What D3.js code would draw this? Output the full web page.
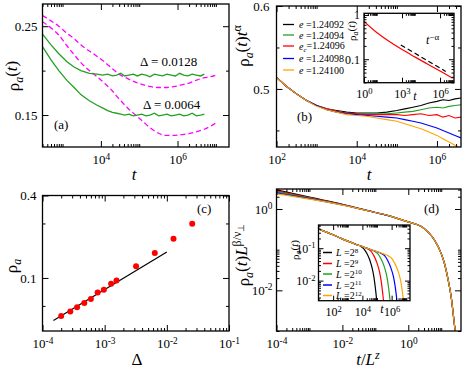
<!DOCTYPE html>
<html>
<head>
<meta charset="utf-8">
<script src="https://cdn.jsdelivr.net/npm/d3@7"></script>
<style>
  body { margin: 0; background: #fff; }
  svg { display: block; }
</style>
</head>
<body>
<script>
// ---- panel (a): rho_a(t) for two Delta values, two models ----
const aTg = [300, 500, 800, 1300, 2000, 3000, 5000, 8000, 1.1e4, 1.5e4, 2e4, 2.6e4, 3.3e4, 4.2e4, 5.4e4, 7e4, 9e4,
  1.15e5, 1.5e5, 1.9e5, 2.5e5, 3.2e5, 4.1e5, 5.3e5, 6.8e5, 8.8e5, 1.13e6, 1.45e6, 1.87e6, 2.4e6, 3.1e6, 4e6, 5e6];
const aGreenHi = [0.241, 0.229, 0.219, 0.210, 0.204, 0.200, 0.197, 0.196, 0.195, 0.196, 0.194, 0.195, 0.197, 0.194,
  0.195, 0.196, 0.194, 0.196, 0.195, 0.193, 0.196, 0.195, 0.194, 0.196, 0.195, 0.194, 0.197, 0.195, 0.194, 0.196,
  0.195, 0.194, 0.196];
const aGreenLo = [0.227, 0.212, 0.200, 0.189, 0.181, 0.173, 0.166, 0.161, 0.158, 0.155, 0.153, 0.152, 0.151, 0.150,
  0.151, 0.149, 0.150, 0.151, 0.149, 0.150, 0.152, 0.149, 0.150, 0.151, 0.149, 0.150, 0.151, 0.149, 0.150, 0.152,
  0.149, 0.150, 0.151];
const aTm = [300, 500, 800, 1300, 2000, 3000, 5000, 8000, 1.3e4, 2e4, 3e4, 5e4, 8e4, 1.3e5, 2e5, 3e5, 5e5, 8e5,
  1.3e6, 2e6, 3e6, 5e6, 7e6, 1e7];
const aMagHi = [0.262, 0.256, 0.250, 0.242, 0.236, 0.229, 0.222, 0.216, 0.209, 0.202, 0.196, 0.191, 0.187, 0.184,
  0.182, 0.181, 0.181, 0.182, 0.184, 0.186, 0.189, 0.192, 0.193, 0.195];
const aMagLo = [0.255, 0.248, 0.240, 0.228, 0.218, 0.209, 0.200, 0.193, 0.185, 0.177, 0.168, 0.158, 0.150, 0.142,
  0.135, 0.130, 0.127, 0.127, 0.128, 0.129, 0.131, 0.134, 0.137, 0.141];

// ---- panel (b): rho_a(t) t^alpha near e_c ----
const bT = [100, 178, 316, 562, 1e3, 1.78e3, 3.16e3, 5.62e3, 1e4, 1.78e4, 3.16e4, 5.62e4, 1e5, 1.58e5, 2.51e5,
  3.98e5, 6.31e5, 1e6, 1.41e6, 2e6, 2.82e6, 3.98e6];
const bLabels = ['1.24092', '1.24094', '1.24096', '1.24098', '1.24100'];
const bBlack = [0.514, 0.503, 0.494, 0.486, 0.480, 0.476, 0.474, 0.472, 0.471, 0.471, 0.471, 0.472, 0.474, 0.476,
  0.478, 0.480, 0.483, 0.485, 0.487, 0.486, 0.488, 0.489];
const bGreen = [0.514, 0.503, 0.494, 0.486, 0.480, 0.476, 0.473, 0.471, 0.470, 0.470, 0.470, 0.470, 0.471, 0.472,
  0.473, 0.475, 0.477, 0.478, 0.477, 0.479, 0.480, 0.481];
const bRed = [0.514, 0.503, 0.494, 0.486, 0.480, 0.476, 0.473, 0.471, 0.470, 0.469, 0.469, 0.469, 0.469, 0.468,
  0.469, 0.470, 0.468, 0.469, 0.466, 0.468, 0.465, 0.466];
const bBlue = [0.514, 0.503, 0.494, 0.486, 0.480, 0.475, 0.472, 0.470, 0.469, 0.468, 0.467, 0.466, 0.465, 0.463,
  0.461, 0.459, 0.456, 0.453, 0.450, 0.447, 0.444, 0.441];
const bOrange = [0.514, 0.503, 0.494, 0.486, 0.479, 0.475, 0.472, 0.469, 0.468, 0.467, 0.465, 0.463, 0.461, 0.458,
  0.455, 0.452, 0.448, 0.444, 0.440, 0.436, 0.432, 0.428];
const biT = [1, 10, 100, 1e3, 1e4, 1e5, 1e6, 1e7];
const biRho = [0.71, 0.40, 0.25, 0.165, 0.113, 0.078, 0.054, 0.037];
const biGuideT = [800, 2.8e6];
const biGuideRho = [0.21, 0.053];

// ---- panel (c): steady-state density vs Delta ----
const cDelta = [0.0002, 0.00028, 0.00036, 0.00047, 0.0006, 0.00077, 0.00097, 0.00127, 0.00155, 0.0032, 0.0064,
  0.0128, 0.0256];
const cRho = [0.0527, 0.057, 0.061, 0.0657, 0.0703, 0.0783, 0.0819, 0.0906, 0.0959, 0.122, 0.152, 0.193, 0.249];
const cFitDelta = [1.5e-4, 1e-2];
const cFitRho = [0.049, 0.155];

// ---- panel (d): finite-size collapse ----
const dS = [1e-4, 1e-3, 1e-2, 1e-1, 0.3, 1, 1.6, 2.5, 4, 6.3, 10, 12.6, 15.8, 20, 25, 28];
const dL8 = [2.95, 1.95, 1.30, 0.82, 0.66, 0.48, 0.43, 0.37, 0.27, 0.17, 0.08, 0.045, 0.02, 0.007, 0.0015, 0.0007];
const dL9 = [2.80, 1.90, 1.28, 0.82, 0.66, 0.48, 0.43, 0.37, 0.27, 0.17, 0.08, 0.045, 0.02, 0.007, 0.0015, 0.0007];
const dL10 = [2.65, 1.85, 1.27, 0.82, 0.66, 0.48, 0.43, 0.37, 0.27, 0.17, 0.08, 0.045, 0.02, 0.007, 0.0015, 0.0007];
const dL11 = [2.50, 1.80, 1.26, 0.82, 0.66, 0.48, 0.43, 0.37, 0.27, 0.17, 0.08, 0.045, 0.02, 0.007, 0.0015, 0.0007];
const dL12 = [2.35, 1.75, 1.25, 0.82, 0.66, 0.48, 0.43, 0.37, 0.27, 0.17, 0.08, 0.045, 0.02, 0.007, 0.0015, 0.0007];
const dExps = ['8', '9', '10', '11', '12'];
// inset of (d): raw rho_a(t) per system size
const diT8 = [10, 31.6, 100, 316, 1000, 2240, 5010, 7940, 1.26e4, 2e4, 3.16e4, 5.01e4, 6.31e4, 7.94e4, 1e5, 1.26e5];
const diR8 = [0.39, 0.32, 0.26, 0.205, 0.165, 0.143, 0.125, 0.113, 0.096, 0.070, 0.044, 0.021, 0.012, 0.0053, 0.0019, 0.0004];
const diT9 = [10, 31.6, 100, 316, 1000, 2240, 5010, 7940, 1.51e4, 2.4e4, 3.8e4, 6.03e4, 9.55e4, 1.51e5, 1.91e5, 2.4e5, 3.02e5, 3.8e5];
const diR9 = [0.39, 0.32, 0.26, 0.205, 0.165, 0.143, 0.125, 0.117, 0.105, 0.094, 0.081, 0.059, 0.037, 0.018, 0.010, 0.0045, 0.0016, 0.0004];
const diT10 = [10, 31.6, 100, 316, 1000, 2240, 5010, 7940, 1.51e4, 2.51e4, 4.47e4, 7.08e4, 1.12e5, 1.78e5, 2.82e5, 4.47e5, 5.62e5, 7.08e5, 8.91e5, 1.12e6];
const diR10 = [0.39, 0.32, 0.26, 0.205, 0.165, 0.143, 0.125, 0.117, 0.105, 0.097, 0.088, 0.079, 0.068, 0.049, 0.031, 0.015, 0.0083, 0.0037, 0.0013, 0.0003];
const diT11 = [10, 31.6, 100, 316, 1000, 2240, 5010, 7940, 1.51e4, 2.51e4, 4.47e4, 7.94e4, 1.35e5, 2.14e5, 3.39e5, 5.37e5, 8.51e5, 1.35e6, 1.7e6, 2.14e6, 2.69e6, 3.39e6];
const diR11 = [0.39, 0.32, 0.26, 0.205, 0.165, 0.143, 0.125, 0.117, 0.105, 0.097, 0.088, 0.081, 0.075, 0.067, 0.058, 0.042, 0.026, 0.0128, 0.0071, 0.0032, 0.0011, 0.0003];
const diT12 = [10, 31.6, 100, 316, 1000, 2240, 5010, 7940, 1.51e4, 2.51e4, 4.47e4, 7.94e4, 1.35e5, 2.51e5, 3.98e5, 6.31e5, 1e6, 1.58e6, 2.51e6, 3.98e6, 5.01e6, 6.31e6, 7.94e6, 1e7];
const diR12 = [0.39, 0.32, 0.26, 0.205, 0.165, 0.143, 0.125, 0.117, 0.105, 0.097, 0.088, 0.081, 0.075, 0.068, 0.063, 0.057, 0.049, 0.035, 0.022, 0.0107, 0.0059, 0.0026, 0.0009, 0.0003];

const COLORS = ['#000000', '#22a022', '#ff0000', '#0000ff', '#ffa500'];
const LCOLORS = ['#000000', '#ff0000', '#22a022', '#0000ff', '#ffa500'];
const FONT = '"Liberation Serif", "Times New Roman", serif';

const svg = d3.select('body').append('svg')
  .attr('width', 463)
  .attr('height', 369)
  .attr('font-family', FONT);
const defs = svg.append('defs');
let clipN = 0;

const zip = (xs, ys) => xs.map((v, i) => [v, ys[i]]);
const inDom = (s, v) => {
  const [a, b] = s.domain();
  return v >= Math.min(a, b) * 0.999 && v <= Math.max(a, b) * 1.001;
};
// xmgrace-like minor ticks k*10^e
const minorK = (s, exps, ks) => exps.flatMap((e) => ks.map((k) => k * 10 ** e)).filter((v) => inDom(s, v));
const K10 = [2, 3, 4, 5, 6, 7, 8, 9, 10];
const K9 = [2, 3, 4, 5, 6, 7, 8, 9];

function powLabel(text, d) {
  const e = Math.round(Math.log10(d));
  text.text(null);
  text.append('tspan').text('10');
  text.append('tspan').attr('dy', '-0.5em').style('font-size', '0.72em').text(e);
}

function axes(x, y, o) {
  const [xl, xr] = x.range();
  const [yb, yt] = y.range();
  const L = o.tick || 6;
  const sides = [
    [d3.axisBottom, x, `translate(0,${yb})`, true],
    [d3.axisTop, x, `translate(0,${yt})`, false],
    [d3.axisLeft, y, `translate(${xl},0)`, true],
    [d3.axisRight, y, `translate(${xr},0)`, false],
  ];
  sides.forEach(([ax, s, tr, lab], i) => {
    const isX = i < 2;
    const maj = isX ? o.xMajor : o.yMajor;
    const min = isX ? o.xMinor : o.yMinor;
    const fmt = isX ? o.xFmt : o.yFmt;
    const gMin = svg.append('g').attr('transform', tr)
      .call(ax(s).tickValues(min).tickSize(-L / 2).tickFormat(''));
    const gMaj = svg.append('g').attr('transform', tr)
      .call(ax(s).tickValues(maj).tickSize(-L)
        .tickPadding(isX ? o.xPad : o.yPad)
        .tickFormat(lab && fmt !== 'pow' ? fmt : ''));
    [gMin, gMaj].forEach((gg) => {
      gg.select('.domain').remove();
      gg.attr('font-family', FONT).attr('font-size', o.fs || 13);
      gg.selectAll('line').attr('stroke-width', 1);
    });
    if (lab && fmt === 'pow') {
      gMaj.selectAll('.tick text').each(function (d) { powLabel(d3.select(this), d); });
    }
  });
  svg.append('rect')
    .attr('x', xl).attr('y', yt)
    .attr('width', xr - xl).attr('height', yb - yt)
    .attr('fill', 'none').attr('stroke', '#000').attr('stroke-width', 1.3);
}

function clipFor(x, y) {
  const id = `clip${clipN++}`;
  const [xl, xr] = x.range();
  const [yb, yt] = y.range();
  defs.append('clipPath').attr('id', id).append('rect')
    .attr('x', xl).attr('y', yt).attr('width', xr - xl).attr('height', yb - yt);
  return svg.append('g').attr('clip-path', `url(#${id})`);
}

function curve(g, x, y, pts, color, opt = {}) {
  const line = d3.line().x((d) => x(d[0])).y((d) => y(d[1]))
    .curve(opt.smooth ? d3.curveMonotoneX : d3.curveLinear);
  g.append('path').datum(pts)
    .attr('d', line)
    .attr('fill', 'none')
    .attr('stroke', color)
    .attr('stroke-width', opt.w || 1.3)
    .attr('stroke-dasharray', opt.dash || null);
}

// rho_a(t)-type label built from pieces
function richText(parent, parts) {
  parts.forEach((p) => {
    const t = parent.append('tspan').text(p.t);
    if (p.i) t.attr('font-style', 'italic');
    if (p.dy) t.attr('dy', p.dy);
    if (p.fs) t.style('font-size', p.fs);
  });
  return parent;
}
const rhoA = [{ t: 'ρ' }, { t: 'a', i: 1, dy: '0.3em', fs: '0.7em' }, { t: '(', dy: '-0.3em' }, { t: 't', i: 1 }, { t: ')' }];

function yTitle(cx, cy, parts, fs) {
  const t = svg.append('text')
    .attr('transform', `translate(${cx},${cy}) rotate(-90)`)
    .attr('text-anchor', 'middle')
    .attr('font-size', fs);
  richText(t, parts);
}
function label(x, y, parts, fs, anchor = 'start') {
  const t = svg.append('text').attr('x', x).attr('y', y)
    .attr('font-size', fs).attr('text-anchor', anchor);
  richText(t, parts);
}

// ======== panel (a) ========
{
  const x = d3.scaleLog().domain([300, 2.2e7]).range([42.5, 229]);
  const y = d3.scaleLinear().domain([0.114, 0.275]).range([147, 4]);
  const g = clipFor(x, y);
  curve(g, x, y, zip(aTm, aMagHi), '#ff00ff', { dash: '5,3', smooth: true });
  curve(g, x, y, zip(aTm, aMagLo), '#ff00ff', { dash: '5,3', smooth: true });
  curve(g, x, y, zip(aTg, aGreenHi), '#22a022');
  curve(g, x, y, zip(aTg, aGreenLo), '#22a022');
  axes(x, y, {
    xMajor: [1e4, 1e6], xMinor: minorK(x, [2, 4, 6], K10), xFmt: 'pow', xPad: 8,
    yMajor: [0.15, 0.25], yMinor: [0.2], yFmt: d3.format('.2f'), yPad: 5,
  });
  yTitle(19, 76, rhoA, 17);
  label(134, 180, [{ t: 't', i: 1 }], 17, 'middle');
  label(140, 66, [{ t: 'Δ = 0.0128' }], 13);
  label(143, 109, [{ t: 'Δ = 0.0064' }], 13);
  label(54, 129, [{ t: '(a)' }], 13);
}

// ======== panel (b) ========
{
  const x = d3.scaleLog().domain([100, 3.98e6]).range([276.5, 461]);
  const y = d3.scaleLinear().domain([0.43, 0.6]).range([147, 6]);
  const g = clipFor(x, y);
  [bBlack, bGreen, bRed, bBlue, bOrange].forEach((vals, i) => {
    curve(g, x, y, zip(bT, vals), COLORS[i], { w: 1.1 });
  });
  axes(x, y, {
    xMajor: [1e2, 1e4, 1e6], xMinor: minorK(x, [2, 4, 6], K10), xFmt: 'pow', xPad: 8,
    yMajor: [0.5, 0.6], yMinor: [0.45, 0.55], yFmt: d3.format('.1f'), yPad: 7,
  });
  yTitle(249, 46, [...rhoA, { t: 't', i: 1 }, { t: 'α', dy: '-0.5em', fs: '0.72em' }], 17);
  label(369, 180, [{ t: 't', i: 1 }], 17, 'middle');
  label(297, 121, [{ t: '(b)' }], 13);

  // legend
  const ly = [28, 38.5, 49.5, 62, 73.5];
  bLabels.forEach((v, i) => {
    svg.append('line').attr('x1', 283).attr('x2', 294).attr('y1', ly[i] - 3.5).attr('y2', ly[i] - 3.5)
      .attr('stroke', COLORS[i]).attr('stroke-width', 1.3);
    const parts = i === 2
      ? [{ t: 'e', i: 1 }, { t: 'c', i: 1, dy: '0.3em', fs: '0.7em' }, { t: '=' + v, dy: '-0.3em' }]
      : [{ t: 'e', i: 1 }, { t: ' =' + v }];
    label(299, ly[i], parts, 10);
  });

  // inset
  const ix = d3.scaleLog().domain([1, 10 ** 7.1]).range([364, 454]);
  const iy = d3.scaleLog().domain([0.0295, 1.09]).range([82.7, 13.3]);
  svg.append('rect').attr('x', 364).attr('y', 13.3).attr('width', 90).attr('height', 69.4).attr('fill', '#fff');
  const gi = clipFor(ix, iy);
  curve(gi, ix, iy, zip(biT, biRho), '#ff0000', { smooth: true, w: 1.2 });
  curve(gi, ix, iy, zip(biGuideT, biGuideRho), '#000', { dash: '5,3', w: 1.2 });
  axes(ix, iy, {
    tick: 5, fs: 12,
    xMajor: [1, 1e3, 1e6], xMinor: minorK(ix, [0, 3, 6], K10), xFmt: 'pow', xPad: 7,
    yMajor: [0.1, 1], yMinor: minorK(iy, [-2, -1], K9), yFmt: (d) => (d === 1 ? '1' : '0.1'), yPad: 4,
  });
  yTitle(356, 31, rhoA, 11);
  label(415, 100, [{ t: 't', i: 1 }], 12, 'middle');
  label(426, 44, [{ t: 't', i: 1 }, { t: '−α', dy: '-0.5em', fs: '0.75em' }], 12);
}

// ======== panel (c) ========
{
  const x = d3.scaleLog().domain([1e-4, 1e-1]).range([42.5, 229]);
  const y = d3.scaleLog().domain([0.041, 0.4]).range([331, 195.5]);
  const g = clipFor(x, y);
  curve(g, x, y, zip(cFitDelta, cFitRho), '#000', { w: 1.2 });
  g.selectAll('circle').data(zip(cDelta, cRho)).join('circle')
    .attr('cx', (d) => x(d[0])).attr('cy', (d) => y(d[1]))
    .attr('r', 3).attr('fill', '#ff0000');
  axes(x, y, {
    xMajor: [1e-4, 1e-3, 1e-2, 1e-1], xMinor: minorK(x, [-4, -3, -2], K9), xFmt: 'pow', xPad: 8,
    yMajor: [0.1, 0.4], yMinor: [0.0625, 0.25], yFmt: (d) => String(d), yPad: 6,
  });
  yTitle(17, 266, [{ t: 'ρ' }, { t: 'a', i: 1, dy: '0.3em', fs: '0.7em' }], 17);
  label(137, 365, [{ t: 'Δ' }], 17, 'middle');
  label(197, 213, [{ t: '(c)' }], 13);
}

// ======== panel (d) ========
{
  const x = d3.scaleLog().domain([1e-4, 10 ** 1.6]).range([276.5, 461]);
  const y = d3.scaleLog().domain([1e-3, 3.1]).range([331, 189]);
  const g = clipFor(x, y);
  [dL8, dL9, dL10, dL11, dL12].forEach((vals, i) => {
    curve(g, x, y, zip(dS, vals), LCOLORS[i], { smooth: true, w: 1.2 });
  });
  axes(x, y, {
    xMajor: [1e-4, 1e-2, 1], xMinor: minorK(x, [-4, -2, 0], K10), xFmt: 'pow', xPad: 8,
    yMajor: [1e-2, 1], yMinor: minorK(y, [-4, -2, 0], K10), yFmt: 'pow', yPad: 4,
  });
  yTitle(249, 255, [...rhoA, { t: 'L', i: 1 }, { t: 'β/ν', dy: '-0.55em', fs: '0.7em' },
    { t: '⊥', dy: '0.3em', fs: '0.55em' }], 17);
  label(368, 365, [{ t: 't', i: 1 }, { t: '/' }, { t: 'L', i: 1 }, { t: 'z', i: 1, dy: '-0.5em', fs: '0.72em' }], 17, 'middle');
  label(424, 213, [{ t: '(d)' }], 13);

  // inset
  const ix = d3.scaleLog().domain([10, 1.8e7]).range([318.5, 410]);
  const iy = d3.scaleLog().domain([0.0024, 0.52]).range([300.7, 225]);
  svg.append('rect').attr('x', 318.5).attr('y', 225).attr('width', 91.5).attr('height', 75.7).attr('fill', '#fff');
  const gi = clipFor(ix, iy);
  [[diT8, diR8], [diT9, diR9], [diT10, diR10], [diT11, diR11], [diT12, diR12]].forEach(([ts, rs], i) => {
    curve(gi, ix, iy, zip(ts, rs), LCOLORS[i], { smooth: true, w: 1.2 });
  });
  axes(ix, iy, {
    tick: 5, fs: 12,
    xMajor: [1e2, 1e4, 1e6], xMinor: minorK(ix, [0, 2, 4, 6], K10), xFmt: 'pow', xPad: 7,
    yMajor: [1e-2, 1e-1], yMinor: minorK(iy, [-3, -2, -1], K9), yFmt: 'pow', yPad: 3,
  });
  yTitle(299, 250, rhoA, 11);
  label(382, 313, [{ t: 't', i: 1 }], 12, 'middle');
  const ly = [256, 267, 277.5, 288.5, 299];
  dExps.forEach((e, i) => {
    svg.append('line').attr('x1', 323).attr('x2', 332).attr('y1', ly[i] - 3.5).attr('y2', ly[i] - 3.5)
      .attr('stroke', LCOLORS[i]).attr('stroke-width', 1.5);
    label(336, ly[i], [{ t: 'L', i: 1 }, { t: ' =2' }, { t: e, dy: '-0.45em', fs: '0.7em' }], 10);
  });
}
</script>
</body>
</html>
